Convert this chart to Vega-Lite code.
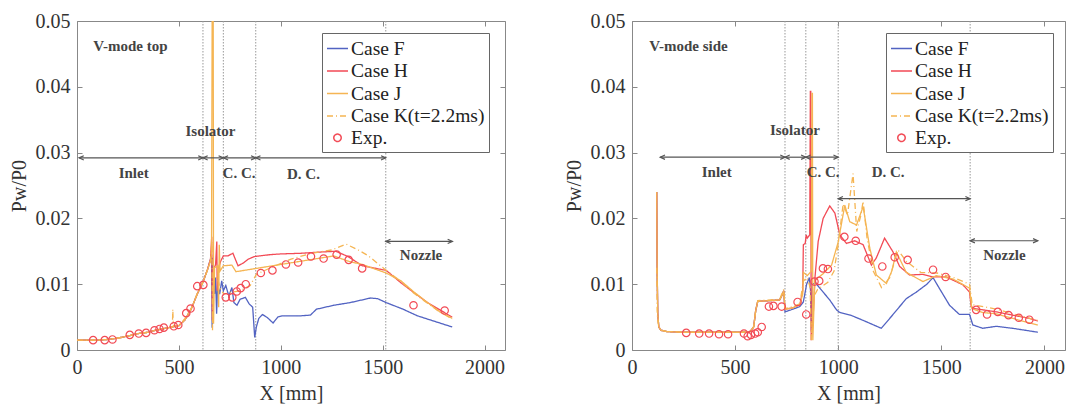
{
"$schema": "https://vega.github.io/schema/vega-lite/v6.json",
"background": "white",
"padding": {"left": 8, "top": 10, "right": 0, "bottom": 0},
"spacing": 57,
"config": {
  "font": "Liberation Serif",
  "view": {"stroke": "#888", "strokeWidth": 1},
  "axis": {"domainColor": "#888", "tickColor": "#888", "labelColor": "#333", "titleColor": "#333", "labelFontSize": 20, "titleFontSize": 20, "titleFontWeight": "normal", "grid": false, "tickSize": -5, "labelPadding": 12, "labelFlush": false, "titlePadding": 6},
  "legend": {"strokeColor": "#666", "fillColor": "#ffffff", "padding": 4, "rowPadding": 1.5, "labelFontSize": 19.5, "labelColor": "#222", "labelOffset": 2, "symbolStrokeWidth": 1.5}
},
"datasets": {
  "top": [
    {"s":"Case F","x":0,"y":0.0015},{"s":"Case F","x":100,"y":0.0015},{"s":"Case F","x":150,"y":0.0016},{"s":"Case F","x":200,"y":0.0018},{"s":"Case F","x":260,"y":0.0022},{"s":"Case F","x":300,"y":0.0025},{"s":"Case F","x":350,"y":0.0027},{"s":"Case F","x":400,"y":0.0031},{"s":"Case F","x":450,"y":0.0034},{"s":"Case F","x":500,"y":0.0037},{"s":"Case F","x":530,"y":0.0046},{"s":"Case F","x":560,"y":0.0062},{"s":"Case F","x":590,"y":0.0085},{"s":"Case F","x":620,"y":0.0105},{"s":"Case F","x":640,"y":0.0122},
    {"s":"Case F","x":655,"y":0.0138},{"s":"Case F","x":660,"y":0.0145},{"s":"Case F","x":663,"y":0.0034},{"s":"Case F","x":667,"y":0.014},{"s":"Case F","x":675,"y":0.0085},{"s":"Case F","x":680,"y":0.011},{"s":"Case F","x":685,"y":0.0055},{"s":"Case F","x":690,"y":0.010},{"s":"Case F","x":700,"y":0.0085},{"s":"Case F","x":710,"y":0.0105},{"s":"Case F","x":718,"y":0.009},{"s":"Case F","x":730,"y":0.0098},{"s":"Case F","x":745,"y":0.0082},{"s":"Case F","x":760,"y":0.0095},{"s":"Case F","x":770,"y":0.0072},{"s":"Case F","x":785,"y":0.0068},{"s":"Case F","x":800,"y":0.0077},{"s":"Case F","x":826,"y":0.0080},{"s":"Case F","x":845,"y":0.0070},{"s":"Case F","x":862,"y":0.0065},{"s":"Case F","x":872,"y":0.0019},{"s":"Case F","x":880,"y":0.0035},{"s":"Case F","x":892,"y":0.0048},{"s":"Case F","x":910,"y":0.0054},{"s":"Case F","x":935,"y":0.0049},{"s":"Case F","x":962,"y":0.0041},{"s":"Case F","x":985,"y":0.0050},{"s":"Case F","x":1010,"y":0.0052},{"s":"Case F","x":1100,"y":0.0052},{"s":"Case F","x":1145,"y":0.0053},{"s":"Case F","x":1175,"y":0.0062},{"s":"Case F","x":1260,"y":0.0068},{"s":"Case F","x":1340,"y":0.0072},{"s":"Case F","x":1440,"y":0.0079},{"s":"Case F","x":1475,"y":0.0078},{"s":"Case F","x":1517,"y":0.0072},{"s":"Case F","x":1600,"y":0.0062},{"s":"Case F","x":1670,"y":0.0052},{"s":"Case F","x":1760,"y":0.0043},{"s":"Case F","x":1841,"y":0.0035},
    {"s":"Case H","x":0,"y":0.0015},{"s":"Case H","x":100,"y":0.0015},{"s":"Case H","x":150,"y":0.0016},{"s":"Case H","x":200,"y":0.0018},{"s":"Case H","x":260,"y":0.0022},{"s":"Case H","x":300,"y":0.0025},{"s":"Case H","x":350,"y":0.0027},{"s":"Case H","x":400,"y":0.0031},{"s":"Case H","x":450,"y":0.0034},{"s":"Case H","x":500,"y":0.0037},{"s":"Case H","x":530,"y":0.0046},{"s":"Case H","x":560,"y":0.0062},{"s":"Case H","x":590,"y":0.0085},{"s":"Case H","x":620,"y":0.0105},{"s":"Case H","x":640,"y":0.0122},
    {"s":"Case H","x":655,"y":0.0138},{"s":"Case H","x":661,"y":0.0172},{"s":"Case H","x":664,"y":0.0045},{"s":"Case H","x":668,"y":0.012},{"s":"Case H","x":680,"y":0.013},{"s":"Case H","x":686,"y":0.0165},{"s":"Case H","x":688,"y":0.009},{"s":"Case H","x":695,"y":0.0125},{"s":"Case H","x":705,"y":0.0135},{"s":"Case H","x":718,"y":0.0143},{"s":"Case H","x":740,"y":0.0143},{"s":"Case H","x":765,"y":0.0147},{"s":"Case H","x":790,"y":0.0128},{"s":"Case H","x":815,"y":0.0132},{"s":"Case H","x":840,"y":0.0138},{"s":"Case H","x":870,"y":0.0142},{"s":"Case H","x":950,"y":0.0145},{"s":"Case H","x":1000,"y":0.0146},{"s":"Case H","x":1100,"y":0.0147},{"s":"Case H","x":1200,"y":0.0149},{"s":"Case H","x":1270,"y":0.0150},{"s":"Case H","x":1330,"y":0.0142},{"s":"Case H","x":1400,"y":0.0128},{"s":"Case H","x":1517,"y":0.0121},{"s":"Case H","x":1590,"y":0.0102},{"s":"Case H","x":1650,"y":0.0088},{"s":"Case H","x":1720,"y":0.0072},{"s":"Case H","x":1780,"y":0.0061},{"s":"Case H","x":1841,"y":0.0050},
    {"s":"Case J","x":0,"y":0.0015},{"s":"Case J","x":100,"y":0.0015},{"s":"Case J","x":150,"y":0.0016},{"s":"Case J","x":200,"y":0.0018},{"s":"Case J","x":260,"y":0.0022},{"s":"Case J","x":300,"y":0.0025},{"s":"Case J","x":350,"y":0.0027},{"s":"Case J","x":400,"y":0.0031},{"s":"Case J","x":450,"y":0.0034},{"s":"Case J","x":500,"y":0.0037},{"s":"Case J","x":530,"y":0.0046},{"s":"Case J","x":560,"y":0.0062},{"s":"Case J","x":590,"y":0.0085},{"s":"Case J","x":620,"y":0.0105},{"s":"Case J","x":640,"y":0.0122},
    {"s":"Case J","x":655,"y":0.0135},{"s":"Case J","x":660,"y":0.0148},{"s":"Case J","x":664,"y":0.06},{"s":"Case J","x":668,"y":0.06},{"s":"Case J","x":670,"y":0.004},{"s":"Case J","x":675,"y":0.0125},{"s":"Case J","x":690,"y":0.0128},{"s":"Case J","x":695,"y":0.0065},{"s":"Case J","x":698,"y":0.016},{"s":"Case J","x":702,"y":0.012},{"s":"Case J","x":718,"y":0.0128},{"s":"Case J","x":760,"y":0.0129},{"s":"Case J","x":780,"y":0.0119},{"s":"Case J","x":800,"y":0.0120},{"s":"Case J","x":900,"y":0.0125},{"s":"Case J","x":1000,"y":0.0130},{"s":"Case J","x":1100,"y":0.0135},{"s":"Case J","x":1200,"y":0.0140},{"s":"Case J","x":1260,"y":0.0143},{"s":"Case J","x":1330,"y":0.0135},{"s":"Case J","x":1400,"y":0.0130},{"s":"Case J","x":1517,"y":0.0117},{"s":"Case J","x":1590,"y":0.0105},{"s":"Case J","x":1650,"y":0.0089},{"s":"Case J","x":1720,"y":0.0072},{"s":"Case J","x":1780,"y":0.0058},{"s":"Case J","x":1841,"y":0.0048},
    {"s":"Case K(t=2.2ms)","x":0,"y":0.0015},{"s":"Case K(t=2.2ms)","x":100,"y":0.0015},{"s":"Case K(t=2.2ms)","x":150,"y":0.0016},{"s":"Case K(t=2.2ms)","x":200,"y":0.0018},{"s":"Case K(t=2.2ms)","x":260,"y":0.0022},{"s":"Case K(t=2.2ms)","x":300,"y":0.0025},{"s":"Case K(t=2.2ms)","x":350,"y":0.0027},{"s":"Case K(t=2.2ms)","x":400,"y":0.0031},{"s":"Case K(t=2.2ms)","x":450,"y":0.0034},{"s":"Case K(t=2.2ms)","x":468,"y":0.0035},{"s":"Case K(t=2.2ms)","x":470,"y":0.0062},{"s":"Case K(t=2.2ms)","x":473,"y":0.0036},{"s":"Case K(t=2.2ms)","x":500,"y":0.0037},{"s":"Case K(t=2.2ms)","x":530,"y":0.0048},{"s":"Case K(t=2.2ms)","x":560,"y":0.0063},{"s":"Case K(t=2.2ms)","x":590,"y":0.0086},{"s":"Case K(t=2.2ms)","x":620,"y":0.0104},{"s":"Case K(t=2.2ms)","x":640,"y":0.0121},
    {"s":"Case K(t=2.2ms)","x":655,"y":0.0136},{"s":"Case K(t=2.2ms)","x":662,"y":0.0165},{"s":"Case K(t=2.2ms)","x":665,"y":0.003},{"s":"Case K(t=2.2ms)","x":670,"y":0.011},{"s":"Case K(t=2.2ms)","x":690,"y":0.011},{"s":"Case K(t=2.2ms)","x":700,"y":0.0095},{"s":"Case K(t=2.2ms)","x":720,"y":0.0085},{"s":"Case K(t=2.2ms)","x":760,"y":0.0088},{"s":"Case K(t=2.2ms)","x":800,"y":0.009},{"s":"Case K(t=2.2ms)","x":850,"y":0.0098},{"s":"Case K(t=2.2ms)","x":880,"y":0.0115},{"s":"Case K(t=2.2ms)","x":950,"y":0.0125},{"s":"Case K(t=2.2ms)","x":1050,"y":0.0138},{"s":"Case K(t=2.2ms)","x":1150,"y":0.0147},{"s":"Case K(t=2.2ms)","x":1250,"y":0.0152},{"s":"Case K(t=2.2ms)","x":1320,"y":0.0161},{"s":"Case K(t=2.2ms)","x":1380,"y":0.0152},{"s":"Case K(t=2.2ms)","x":1430,"y":0.0143},{"s":"Case K(t=2.2ms)","x":1517,"y":0.0121},{"s":"Case K(t=2.2ms)","x":1590,"y":0.0104},{"s":"Case K(t=2.2ms)","x":1650,"y":0.0087},{"s":"Case K(t=2.2ms)","x":1720,"y":0.0071},{"s":"Case K(t=2.2ms)","x":1780,"y":0.0058},{"s":"Case K(t=2.2ms)","x":1841,"y":0.0047}
  ],
  "topExp": [
    {"s":"Exp.","x":79,"y":0.0015},{"s":"Exp.","x":136,"y":0.0015},{"s":"Exp.","x":174,"y":0.0016},{"s":"Exp.","x":259,"y":0.0023},{"s":"Exp.","x":303,"y":0.0025},{"s":"Exp.","x":339,"y":0.0026},{"s":"Exp.","x":380,"y":0.0030},{"s":"Exp.","x":405,"y":0.0032},{"s":"Exp.","x":426,"y":0.0034},{"s":"Exp.","x":475,"y":0.0036},{"s":"Exp.","x":497,"y":0.0038},{"s":"Exp.","x":536,"y":0.0056},{"s":"Exp.","x":557,"y":0.0063},{"s":"Exp.","x":590,"y":0.0097},{"s":"Exp.","x":620,"y":0.0099},{"s":"Exp.","x":730,"y":0.0080},{"s":"Exp.","x":762,"y":0.0080},{"s":"Exp.","x":784,"y":0.0089},{"s":"Exp.","x":803,"y":0.0094},{"s":"Exp.","x":828,"y":0.0100},{"s":"Exp.","x":902,"y":0.0117},{"s":"Exp.","x":959,"y":0.0121},{"s":"Exp.","x":1025,"y":0.0130},{"s":"Exp.","x":1085,"y":0.0133},{"s":"Exp.","x":1148,"y":0.0142},{"s":"Exp.","x":1210,"y":0.0139},{"s":"Exp.","x":1274,"y":0.0145},{"s":"Exp.","x":1333,"y":0.0137},{"s":"Exp.","x":1399,"y":0.0124},{"s":"Exp.","x":1651,"y":0.0068},{"s":"Exp.","x":1804,"y":0.0060}
  ],
  "topV": [{"x":618},{"x":718},{"x":877},{"x":1515}],
  "topArr": [{"x":10,"x2":618,"y":0.0292},{"x":618,"x2":718,"y":0.0292},{"x":718,"x2":877,"y":0.0292},{"x":877,"x2":1515,"y":0.0292},{"x":1515,"x2":1842,"y":0.0165}],
  "topHead": [
    {"d":"L","x":10,"y":0.0292},{"d":"R","x":618,"y":0.0292},{"d":"L","x":618,"y":0.0292},{"d":"R","x":718,"y":0.0292},{"d":"L","x":718,"y":0.0292},{"d":"R","x":877,"y":0.0292},{"d":"L","x":877,"y":0.0292},{"d":"R","x":1515,"y":0.0292},{"d":"L","x":1515,"y":0.0165},{"d":"R","x":1842,"y":0.0165}
  ],
  "topTxt": [{"t":"V-mode top","x":262,"y":0.0462},{"t":"Inlet","x":278,"y":0.0269},{"t":"Isolator","x":655,"y":0.0333},{"t":"C. C.","x":795,"y":0.0269},{"t":"D. C.","x":1111,"y":0.0267},{"t":"Nozzle","x":1688,"y":0.0145}],
  "side": [
    {"s":"Case F","x":120,"y":0.024},{"s":"Case F","x":122,"y":0.012},{"s":"Case F","x":125,"y":0.0055},{"s":"Case F","x":130,"y":0.0035},{"s":"Case F","x":140,"y":0.003},{"s":"Case F","x":170,"y":0.0028},{"s":"Case F","x":250,"y":0.0027},{"s":"Case F","x":570,"y":0.0027},{"s":"Case F","x":590,"y":0.0035},{"s":"Case F","x":600,"y":0.006},{"s":"Case F","x":610,"y":0.0074},{"s":"Case F","x":716,"y":0.0076},{"s":"Case F","x":730,"y":0.0085},{"s":"Case F","x":736,"y":0.009},
    {"s":"Case F","x":742,"y":0.0058},{"s":"Case F","x":780,"y":0.0062},{"s":"Case F","x":814,"y":0.0066},{"s":"Case F","x":831,"y":0.0073},{"s":"Case F","x":847,"y":0.0100},{"s":"Case F","x":860,"y":0.0110},{"s":"Case F","x":866,"y":0.0090},{"s":"Case F","x":870,"y":0.0028},{"s":"Case F","x":875,"y":0.0100},{"s":"Case F","x":890,"y":0.0102},{"s":"Case F","x":927,"y":0.0088},{"s":"Case F","x":959,"y":0.0076},{"s":"Case F","x":992,"y":0.0061},{"s":"Case F","x":1008,"y":0.0057},{"s":"Case F","x":1060,"y":0.0053},{"s":"Case F","x":1121,"y":0.0045},{"s":"Case F","x":1209,"y":0.0033},{"s":"Case F","x":1250,"y":0.0048},{"s":"Case F","x":1330,"y":0.0078},{"s":"Case F","x":1379,"y":0.0088},{"s":"Case F","x":1430,"y":0.0100},{"s":"Case F","x":1460,"y":0.0110},{"s":"Case F","x":1492,"y":0.0093},{"s":"Case F","x":1540,"y":0.0068},{"s":"Case F","x":1588,"y":0.0054},{"s":"Case F","x":1637,"y":0.0054},{"s":"Case F","x":1653,"y":0.0038},{"s":"Case F","x":1701,"y":0.0033},{"s":"Case F","x":1766,"y":0.0036},{"s":"Case F","x":1846,"y":0.0033},{"s":"Case F","x":1968,"y":0.0027},
    {"s":"Case H","x":120,"y":0.024},{"s":"Case H","x":122,"y":0.012},{"s":"Case H","x":125,"y":0.0055},{"s":"Case H","x":130,"y":0.0035},{"s":"Case H","x":140,"y":0.003},{"s":"Case H","x":170,"y":0.0028},{"s":"Case H","x":250,"y":0.0027},{"s":"Case H","x":570,"y":0.0027},{"s":"Case H","x":590,"y":0.0035},{"s":"Case H","x":600,"y":0.006},{"s":"Case H","x":610,"y":0.0074},{"s":"Case H","x":716,"y":0.0076},{"s":"Case H","x":730,"y":0.0085},{"s":"Case H","x":736,"y":0.009},{"s":"Case H","x":742,"y":0.0062},{"s":"Case H","x":780,"y":0.0064},{"s":"Case H","x":814,"y":0.0069},
    {"s":"Case H","x":828,"y":0.0090},{"s":"Case H","x":831,"y":0.0160},{"s":"Case H","x":840,"y":0.0162},{"s":"Case H","x":845,"y":0.0175},{"s":"Case H","x":850,"y":0.0170},{"s":"Case H","x":862,"y":0.0175},{"s":"Case H","x":865,"y":0.0393},{"s":"Case H","x":867,"y":0.0393},{"s":"Case H","x":869,"y":0.0015},{"s":"Case H","x":880,"y":0.0060},{"s":"Case H","x":887,"y":0.0109},{"s":"Case H","x":903,"y":0.0165},{"s":"Case H","x":927,"y":0.0200},{"s":"Case H","x":959,"y":0.0219},{"s":"Case H","x":984,"y":0.0208},{"s":"Case H","x":1008,"y":0.0175},{"s":"Case H","x":1040,"y":0.0162},{"s":"Case H","x":1080,"y":0.0166},{"s":"Case H","x":1121,"y":0.0160},{"s":"Case H","x":1161,"y":0.0129},{"s":"Case H","x":1185,"y":0.0140},{"s":"Case H","x":1225,"y":0.0170},{"s":"Case H","x":1266,"y":0.0149},{"s":"Case H","x":1298,"y":0.0127},{"s":"Case H","x":1346,"y":0.0114},{"s":"Case H","x":1411,"y":0.0115},{"s":"Case H","x":1460,"y":0.0111},{"s":"Case H","x":1524,"y":0.0111},{"s":"Case H","x":1605,"y":0.0099},{"s":"Case H","x":1637,"y":0.0088},{"s":"Case H","x":1645,"y":0.0066},{"s":"Case H","x":1661,"y":0.0063},{"s":"Case H","x":1766,"y":0.0058},{"s":"Case H","x":1927,"y":0.0048},{"s":"Case H","x":1968,"y":0.0044},
    {"s":"Case J","x":120,"y":0.024},{"s":"Case J","x":122,"y":0.012},{"s":"Case J","x":125,"y":0.0055},{"s":"Case J","x":130,"y":0.0035},{"s":"Case J","x":140,"y":0.003},{"s":"Case J","x":170,"y":0.0028},{"s":"Case J","x":250,"y":0.0027},{"s":"Case J","x":570,"y":0.0027},{"s":"Case J","x":590,"y":0.0035},{"s":"Case J","x":600,"y":0.006},{"s":"Case J","x":610,"y":0.0074},{"s":"Case J","x":716,"y":0.0076},{"s":"Case J","x":730,"y":0.0085},{"s":"Case J","x":736,"y":0.009},{"s":"Case J","x":742,"y":0.0062},{"s":"Case J","x":780,"y":0.0064},{"s":"Case J","x":814,"y":0.0069},
    {"s":"Case J","x":828,"y":0.0085},{"s":"Case J","x":831,"y":0.0118},{"s":"Case J","x":850,"y":0.0113},{"s":"Case J","x":870,"y":0.0120},{"s":"Case J","x":873,"y":0.0390},{"s":"Case J","x":875,"y":0.0390},{"s":"Case J","x":877,"y":0.0015},{"s":"Case J","x":887,"y":0.0106},{"s":"Case J","x":927,"y":0.0116},{"s":"Case J","x":968,"y":0.0129},{"s":"Case J","x":1000,"y":0.0164},{"s":"Case J","x":1032,"y":0.0220},{"s":"Case J","x":1056,"y":0.0195},{"s":"Case J","x":1089,"y":0.0190},{"s":"Case J","x":1121,"y":0.0218},{"s":"Case J","x":1153,"y":0.0155},{"s":"Case J","x":1185,"y":0.0114},{"s":"Case J","x":1234,"y":0.0101},{"s":"Case J","x":1260,"y":0.0120},{"s":"Case J","x":1282,"y":0.0149},{"s":"Case J","x":1330,"y":0.0118},{"s":"Case J","x":1411,"y":0.0104},{"s":"Case J","x":1476,"y":0.0113},{"s":"Case J","x":1556,"y":0.0108},{"s":"Case J","x":1637,"y":0.0094},{"s":"Case J","x":1648,"y":0.0063},{"s":"Case J","x":1700,"y":0.0057},{"s":"Case J","x":1766,"y":0.0055},{"s":"Case J","x":1870,"y":0.0046},{"s":"Case J","x":1968,"y":0.0038},
    {"s":"Case K(t=2.2ms)","x":120,"y":0.0125},{"s":"Case K(t=2.2ms)","x":122,"y":0.006},{"s":"Case K(t=2.2ms)","x":125,"y":0.0045},{"s":"Case K(t=2.2ms)","x":130,"y":0.0035},{"s":"Case K(t=2.2ms)","x":140,"y":0.003},{"s":"Case K(t=2.2ms)","x":170,"y":0.0028},{"s":"Case K(t=2.2ms)","x":250,"y":0.0027},{"s":"Case K(t=2.2ms)","x":570,"y":0.0027},{"s":"Case K(t=2.2ms)","x":590,"y":0.0035},{"s":"Case K(t=2.2ms)","x":600,"y":0.006},{"s":"Case K(t=2.2ms)","x":610,"y":0.0075},{"s":"Case K(t=2.2ms)","x":716,"y":0.0077},{"s":"Case K(t=2.2ms)","x":730,"y":0.0088},{"s":"Case K(t=2.2ms)","x":736,"y":0.0092},{"s":"Case K(t=2.2ms)","x":742,"y":0.0063},{"s":"Case K(t=2.2ms)","x":780,"y":0.0066},{"s":"Case K(t=2.2ms)","x":814,"y":0.0070},
    {"s":"Case K(t=2.2ms)","x":831,"y":0.0105},{"s":"Case K(t=2.2ms)","x":850,"y":0.0110},{"s":"Case K(t=2.2ms)","x":864,"y":0.0095},{"s":"Case K(t=2.2ms)","x":870,"y":0.0015},{"s":"Case K(t=2.2ms)","x":880,"y":0.0080},{"s":"Case K(t=2.2ms)","x":900,"y":0.0092},{"s":"Case K(t=2.2ms)","x":950,"y":0.0103},{"s":"Case K(t=2.2ms)","x":980,"y":0.0120},{"s":"Case K(t=2.2ms)","x":1000,"y":0.0160},{"s":"Case K(t=2.2ms)","x":1024,"y":0.0222},{"s":"Case K(t=2.2ms)","x":1045,"y":0.0205},{"s":"Case K(t=2.2ms)","x":1072,"y":0.0268},{"s":"Case K(t=2.2ms)","x":1090,"y":0.0180},{"s":"Case K(t=2.2ms)","x":1110,"y":0.0205},{"s":"Case K(t=2.2ms)","x":1121,"y":0.0226},{"s":"Case K(t=2.2ms)","x":1140,"y":0.0170},{"s":"Case K(t=2.2ms)","x":1170,"y":0.0120},{"s":"Case K(t=2.2ms)","x":1210,"y":0.0095},{"s":"Case K(t=2.2ms)","x":1250,"y":0.0110},{"s":"Case K(t=2.2ms)","x":1290,"y":0.0152},{"s":"Case K(t=2.2ms)","x":1330,"y":0.0135},{"s":"Case K(t=2.2ms)","x":1400,"y":0.0118},{"s":"Case K(t=2.2ms)","x":1480,"y":0.0117},{"s":"Case K(t=2.2ms)","x":1560,"y":0.0110},{"s":"Case K(t=2.2ms)","x":1637,"y":0.0100},{"s":"Case K(t=2.2ms)","x":1650,"y":0.0069},{"s":"Case K(t=2.2ms)","x":1770,"y":0.0062},{"s":"Case K(t=2.2ms)","x":1870,"y":0.0053},{"s":"Case K(t=2.2ms)","x":1968,"y":0.0045}
  ],
  "sideExp": [
    {"s":"Exp.","x":263,"y":0.0026},{"s":"Exp.","x":326,"y":0.0025},{"s":"Exp.","x":374,"y":0.0025},{"s":"Exp.","x":422,"y":0.0024},{"s":"Exp.","x":466,"y":0.0024},{"s":"Exp.","x":543,"y":0.0025},{"s":"Exp.","x":561,"y":0.0021},{"s":"Exp.","x":577,"y":0.0023},{"s":"Exp.","x":597,"y":0.0025},{"s":"Exp.","x":610,"y":0.0027},{"s":"Exp.","x":629,"y":0.0035},{"s":"Exp.","x":664,"y":0.0066},{"s":"Exp.","x":686,"y":0.0067},{"s":"Exp.","x":726,"y":0.0066},{"s":"Exp.","x":803,"y":0.0073},{"s":"Exp.","x":845,"y":0.0054},{"s":"Exp.","x":885,"y":0.0104},{"s":"Exp.","x":908,"y":0.0105},{"s":"Exp.","x":926,"y":0.0124},{"s":"Exp.","x":950,"y":0.0123},{"s":"Exp.","x":1030,"y":0.0172},{"s":"Exp.","x":1085,"y":0.0166},{"s":"Exp.","x":1147,"y":0.0139},{"s":"Exp.","x":1214,"y":0.0127},{"s":"Exp.","x":1274,"y":0.0141},{"s":"Exp.","x":1337,"y":0.0137},{"s":"Exp.","x":1460,"y":0.0122},{"s":"Exp.","x":1521,"y":0.0111},{"s":"Exp.","x":1669,"y":0.0061},{"s":"Exp.","x":1722,"y":0.0054},{"s":"Exp.","x":1774,"y":0.0058},{"s":"Exp.","x":1826,"y":0.0053},{"s":"Exp.","x":1876,"y":0.0049},{"s":"Exp.","x":1927,"y":0.0046}
  ],
  "sideV": [{"x":742},{"x":843},{"x":1000},{"x":1640}],
  "sideArr": [{"x":137,"x2":742,"y":0.0293},{"x":742,"x2":843,"y":0.0293},{"x":843,"x2":1000,"y":0.0293},{"x":1000,"x2":1640,"y":0.0230},{"x":1640,"x2":1968,"y":0.0166}],
  "sideHead": [
    {"d":"L","x":137,"y":0.0293},{"d":"R","x":742,"y":0.0293},{"d":"L","x":742,"y":0.0293},{"d":"R","x":843,"y":0.0293},{"d":"L","x":843,"y":0.0293},{"d":"R","x":1000,"y":0.0293},{"d":"L","x":1000,"y":0.0230},{"d":"R","x":1640,"y":0.0230},{"d":"L","x":1640,"y":0.0166},{"d":"R","x":1968,"y":0.0166}
  ],
  "sideTxt": [{"t":"V-mode side","x":274,"y":0.0462},{"t":"Inlet","x":411,"y":0.0270},{"t":"Isolator","x":790,"y":0.0335},{"t":"C. C.","x":927,"y":0.0271},{"t":"D. C.","x":1242,"y":0.0271},{"t":"Nozzle","x":1806,"y":0.0144}]
},
"hconcat": [
  {
    "width": 428, "height": 329,
    "resolve": {"axis": {"x": "independent", "y": "independent"}},
    "layer": [
      {"data": {"name": "topV"}, "mark": {"type": "rule", "stroke": "#999", "strokeDash": [1.5, 1.5], "strokeWidth": 1},
       "encoding": {"x": {"field": "x", "type": "quantitative", "scale": {"domain": [0, 2100], "nice": false}, "axis": {"orient": "top", "labels": false, "title": null, "domain": false, "values": [0, 500, 1000, 1500, 2000]}}}},
      {"data": {"name": "top"}, "mark": {"type": "line", "strokeWidth": 1.3, "clip": true},
       "encoding": {
         "x": {"field": "x", "type": "quantitative", "scale": {"domain": [0, 2100], "nice": false}, "axis": {"orient": "bottom", "title": "X [mm]", "values": [0, 500, 1000, 1500, 2000], "format": "d", "domain": false}},
         "y": {"field": "y", "type": "quantitative", "scale": {"domain": [0, 0.05], "nice": false}, "axis": {"orient": "left", "title": "Pw/P0", "values": [0, 0.01, 0.02, 0.03, 0.04, 0.05], "format": "~f", "domain": false}},
         "color": {"field": "s", "type": "nominal", "scale": {"domain": ["Case F", "Case H", "Case J", "Case K(t=2.2ms)", "Exp."], "range": ["#5263c2", "#f24a55", "#f5b553", "#f5b553", "#f24a55"]}, "legend": {"orient": "none", "legendX": 245, "legendY": 12, "title": null}},
         "strokeDash": {"field": "s", "type": "nominal", "scale": {"domain": ["Case F", "Case H", "Case J", "Case K(t=2.2ms)", "Exp."], "range": [[1, 0], [1, 0], [1, 0], [6, 3, 1, 3], [1, 0]]}}
       }},
      {"data": {"name": "topExp"}, "mark": {"type": "point", "filled": false, "strokeWidth": 1.2, "opacity": 1},
       "encoding": {
         "x": {"field": "x", "type": "quantitative", "scale": {"domain": [0, 2100], "nice": false}, "axis": null},
         "y": {"field": "y", "type": "quantitative", "scale": {"domain": [0, 0.05], "nice": false}, "axis": null},
         "color": {"field": "s", "type": "nominal", "scale": {"domain": ["Case F", "Case H", "Case J", "Case K(t=2.2ms)", "Exp."], "range": ["#5263c2", "#f24a55", "#f5b553", "#f5b553", "#f24a55"]}},
         "shape": {"field": "s", "type": "nominal", "scale": {"domain": ["Case F", "Case H", "Case J", "Case K(t=2.2ms)", "Exp."], "range": ["stroke", "stroke", "stroke", "stroke", "circle"]}},
         "size": {"field": "s", "type": "nominal", "scale": {"type": "ordinal", "domain": ["Case F", "Case H", "Case J", "Case K(t=2.2ms)", "Exp."], "range": [441, 441, 441, 441, 55]}}
       }},
      {"data": {"name": "topArr"}, "mark": {"type": "rule", "stroke": "#555", "strokeWidth": 1.2},
       "encoding": {
         "x": {"field": "x", "type": "quantitative", "scale": {"domain": [0, 2100], "nice": false}, "axis": null},
         "x2": {"field": "x2"},
         "y": {"field": "y", "type": "quantitative", "scale": {"domain": [0, 0.05], "nice": false}, "axis": {"orient": "right", "labels": false, "title": null, "domain": false, "values": [0, 0.01, 0.02, 0.03, 0.04, 0.05]}}
       }},
      {"data": {"name": "topHead"}, "transform": [{"filter": "datum.d == 'R'"}], "mark": {"type": "point", "shape": "M-1,-0.45L0,0L-1,0.45", "filled": false, "stroke": "#555", "strokeWidth": 1.2, "size": 90, "opacity": 1},
       "encoding": {
         "x": {"field": "x", "type": "quantitative", "scale": {"domain": [0, 2100], "nice": false}, "axis": null},
         "y": {"field": "y", "type": "quantitative", "scale": {"domain": [0, 0.05], "nice": false}, "axis": null}
       }},
      {"data": {"name": "topHead"}, "transform": [{"filter": "datum.d == 'L'"}], "mark": {"type": "point", "shape": "M1,-0.45L0,0L1,0.45", "filled": false, "stroke": "#555", "strokeWidth": 1.2, "size": 90, "opacity": 1},
       "encoding": {
         "x": {"field": "x", "type": "quantitative", "scale": {"domain": [0, 2100], "nice": false}, "axis": null},
         "y": {"field": "y", "type": "quantitative", "scale": {"domain": [0, 0.05], "nice": false}, "axis": null}
       }},
      {"data": {"name": "topTxt"}, "mark": {"type": "text", "fontSize": 15, "fontWeight": "bold", "color": "#444", "align": "center", "baseline": "middle"},
       "encoding": {
         "x": {"field": "x", "type": "quantitative", "scale": {"domain": [0, 2100], "nice": false}, "axis": null},
         "y": {"field": "y", "type": "quantitative", "scale": {"domain": [0, 0.05], "nice": false}, "axis": null},
         "text": {"field": "t"}
       }}
    ]
  },
  {
    "width": 433, "height": 329,
    "resolve": {"axis": {"x": "independent", "y": "independent"}},
    "layer": [
      {"data": {"name": "sideV"}, "mark": {"type": "rule", "stroke": "#999", "strokeDash": [1.5, 1.5], "strokeWidth": 1},
       "encoding": {"x": {"field": "x", "type": "quantitative", "scale": {"domain": [0, 2100], "nice": false}, "axis": {"orient": "top", "labels": false, "title": null, "domain": false, "values": [0, 500, 1000, 1500, 2000]}}}},
      {"data": {"name": "side"}, "mark": {"type": "line", "strokeWidth": 1.3, "clip": true},
       "encoding": {
         "x": {"field": "x", "type": "quantitative", "scale": {"domain": [0, 2100], "nice": false}, "axis": {"orient": "bottom", "title": "X [mm]", "values": [0, 500, 1000, 1500, 2000], "format": "d", "domain": false}},
         "y": {"field": "y", "type": "quantitative", "scale": {"domain": [0, 0.05], "nice": false}, "axis": {"orient": "left", "title": "Pw/P0", "values": [0, 0.01, 0.02, 0.03, 0.04, 0.05], "format": "~f", "domain": false}},
         "color": {"field": "s", "type": "nominal", "scale": {"domain": ["Case F", "Case H", "Case J", "Case K(t=2.2ms)", "Exp."], "range": ["#5263c2", "#f24a55", "#f5b553", "#f5b553", "#f24a55"]}, "legend": {"orient": "none", "legendX": 254, "legendY": 12, "title": null}},
         "strokeDash": {"field": "s", "type": "nominal", "scale": {"domain": ["Case F", "Case H", "Case J", "Case K(t=2.2ms)", "Exp."], "range": [[1, 0], [1, 0], [1, 0], [6, 3, 1, 3], [1, 0]]}}
       }},
      {"data": {"name": "sideExp"}, "mark": {"type": "point", "filled": false, "strokeWidth": 1.2, "opacity": 1},
       "encoding": {
         "x": {"field": "x", "type": "quantitative", "scale": {"domain": [0, 2100], "nice": false}, "axis": null},
         "y": {"field": "y", "type": "quantitative", "scale": {"domain": [0, 0.05], "nice": false}, "axis": null},
         "color": {"field": "s", "type": "nominal", "scale": {"domain": ["Case F", "Case H", "Case J", "Case K(t=2.2ms)", "Exp."], "range": ["#5263c2", "#f24a55", "#f5b553", "#f5b553", "#f24a55"]}},
         "shape": {"field": "s", "type": "nominal", "scale": {"domain": ["Case F", "Case H", "Case J", "Case K(t=2.2ms)", "Exp."], "range": ["stroke", "stroke", "stroke", "stroke", "circle"]}},
         "size": {"field": "s", "type": "nominal", "scale": {"type": "ordinal", "domain": ["Case F", "Case H", "Case J", "Case K(t=2.2ms)", "Exp."], "range": [441, 441, 441, 441, 55]}}
       }},
      {"data": {"name": "sideArr"}, "mark": {"type": "rule", "stroke": "#555", "strokeWidth": 1.2},
       "encoding": {
         "x": {"field": "x", "type": "quantitative", "scale": {"domain": [0, 2100], "nice": false}, "axis": null},
         "x2": {"field": "x2"},
         "y": {"field": "y", "type": "quantitative", "scale": {"domain": [0, 0.05], "nice": false}, "axis": {"orient": "right", "labels": false, "title": null, "domain": false, "values": [0, 0.01, 0.02, 0.03, 0.04, 0.05]}}
       }},
      {"data": {"name": "sideHead"}, "transform": [{"filter": "datum.d == 'R'"}], "mark": {"type": "point", "shape": "M-1,-0.45L0,0L-1,0.45", "filled": false, "stroke": "#555", "strokeWidth": 1.2, "size": 90, "opacity": 1},
       "encoding": {
         "x": {"field": "x", "type": "quantitative", "scale": {"domain": [0, 2100], "nice": false}, "axis": null},
         "y": {"field": "y", "type": "quantitative", "scale": {"domain": [0, 0.05], "nice": false}, "axis": null}
       }},
      {"data": {"name": "sideHead"}, "transform": [{"filter": "datum.d == 'L'"}], "mark": {"type": "point", "shape": "M1,-0.45L0,0L1,0.45", "filled": false, "stroke": "#555", "strokeWidth": 1.2, "size": 90, "opacity": 1},
       "encoding": {
         "x": {"field": "x", "type": "quantitative", "scale": {"domain": [0, 2100], "nice": false}, "axis": null},
         "y": {"field": "y", "type": "quantitative", "scale": {"domain": [0, 0.05], "nice": false}, "axis": null}
       }},
      {"data": {"name": "sideTxt"}, "mark": {"type": "text", "fontSize": 15, "fontWeight": "bold", "color": "#444", "align": "center", "baseline": "middle"},
       "encoding": {
         "x": {"field": "x", "type": "quantitative", "scale": {"domain": [0, 2100], "nice": false}, "axis": null},
         "y": {"field": "y", "type": "quantitative", "scale": {"domain": [0, 0.05], "nice": false}, "axis": null},
         "text": {"field": "t"}
       }}
    ]
  }
],
"resolve": {"scale": {"color": "independent", "strokeDash": "independent", "shape": "independent", "size": "independent"}, "legend": {"color": "independent", "strokeDash": "independent", "shape": "independent", "size": "independent"}}
}
